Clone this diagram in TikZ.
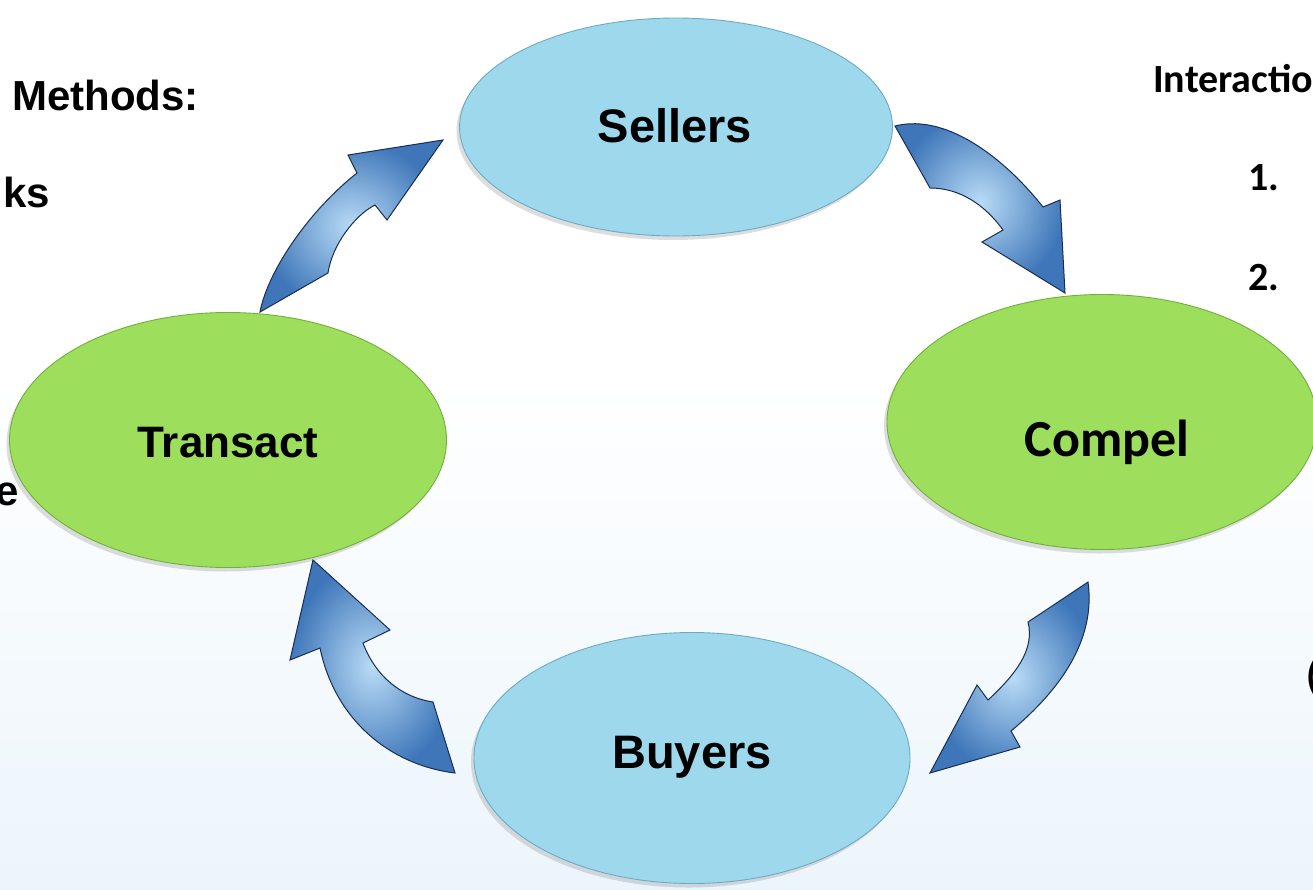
\documentclass[tikz,border=0pt]{standalone}
\usepackage{fontspec}
\setmainfont{Liberation Sans}
\newfontfamily\calib{Carlito}
\usetikzlibrary{shadows,calc,shapes.geometric}
\definecolor{skyfill}{RGB}{157,216,236}
\definecolor{skyline}{RGB}{110,170,195}
\definecolor{leaffill}{RGB}{157,222,92}
\definecolor{leafline}{RGB}{115,175,60}
\definecolor{arrlight}{RGB}{185,220,246}
\definecolor{arrdark}{RGB}{62,118,185}
\definecolor{arredge}{RGB}{25,45,80}
\definecolor{bgblue}{RGB}{236,245,251}
\tikzset{
  blob/.style={ellipse, inner sep=0pt, line width=0.9pt,
    drop shadow={shadow xshift=-3pt, shadow yshift=-4pt, opacity=0.22, fill=black!60}},
  skyblob/.style={blob, fill=skyfill, draw=skyline},
  leafblob/.style={blob, fill=leaffill, draw=leafline},
  lbl/.style={anchor=base, inner sep=0pt, font=\bfseries\fontsize{47}{50}\selectfont},
  sidetxt/.style={anchor=base west, inner sep=0pt, font=\bfseries\fontsize{42}{46}\selectfont},
  calibtxt/.style={anchor=base west, inner sep=0pt, font=\calib\bfseries\fontsize{40}{44}\selectfont},
  curvearrow/.style={inner color=arrlight, outer color=arrdark, draw=arredge, line width=1pt, line join=miter}
}
\begin{document}
\begin{tikzpicture}[x=1pt,y=-1pt]
\useasboundingbox (0,0) rectangle (1313,889);
\fill[white] (0,0) rectangle (1313,889);
\shade[top color=white, bottom color=bgblue] (0,380) rectangle (1313,889);

% side texts
\node[sidetxt] (methods) at (12,110) {Methods:};
\node[sidetxt] (ks) at (3,207) {ks};
\node[sidetxt] (echar) at (-5,505) {e};
\node[calibtxt] (inter) at (1153,92) {Interactio};
\node[calibtxt] (one) at (1248,190) {1.};
\node[calibtxt] (two) at (1248,290) {2.};
\node[calibtxt] (paren) at (1306,689) {(};

% ellipses
\node[skyblob, minimum width=433pt, minimum height=218pt] (sellers) at (676,127) {};
\node[leafblob, minimum width=430pt, minimum height=255pt] (compel) at (1102,422) {};
\node[leafblob, minimum width=437pt, minimum height=255pt] (transact) at (228,440) {};
\node[skyblob, minimum width=436pt, minimum height=251pt] (buyers) at (692,758) {};

\node[lbl] (sellerslbl) at (675,142) {Sellers};
\node[lbl, font=\bfseries\fontsize{44}{48}\selectfont] (transactlbl) at (228,457) {Transact};
\node[lbl] (buyerslbl) at (692,768) {Buyers};
\node[lbl, font=\calib\bfseries\fontsize{52}{56}\selectfont] (compellbl) at (1107,456) {Compel};

% curved block arrows
\shade[curvearrow] (260,312) .. controls (268,270) and (310,210) .. (357,173)
  -- (348,155) -- (443,140) -- (387,220) -- (375,205)
  .. controls (355,215) and (332,245) .. (328,273) -- cycle;
\shade[curvearrow] (895,126) .. controls (950,112) and (1010,165) .. (1043,207)
  -- (1060,200) -- (1065,293) -- (982,242) -- (1003,230)
  .. controls (985,205) and (960,188) .. (930,188) -- cycle;
\shade[curvearrow] (1088,582) .. controls (1096,640) and (1060,690) .. (1011,731)
  -- (1020,747) -- (930,773) -- (977,685) -- (988,700)
  .. controls (1015,675) and (1035,650) .. (1028,622) -- cycle;
\shade[curvearrow] (455,773) .. controls (390,765) and (335,720) .. (320,648)
  -- (290,660) -- (313,560) -- (390,630) -- (363,643)
  .. controls (375,675) and (400,697) .. (433,702) -- cycle;
\end{tikzpicture}
\end{document}
